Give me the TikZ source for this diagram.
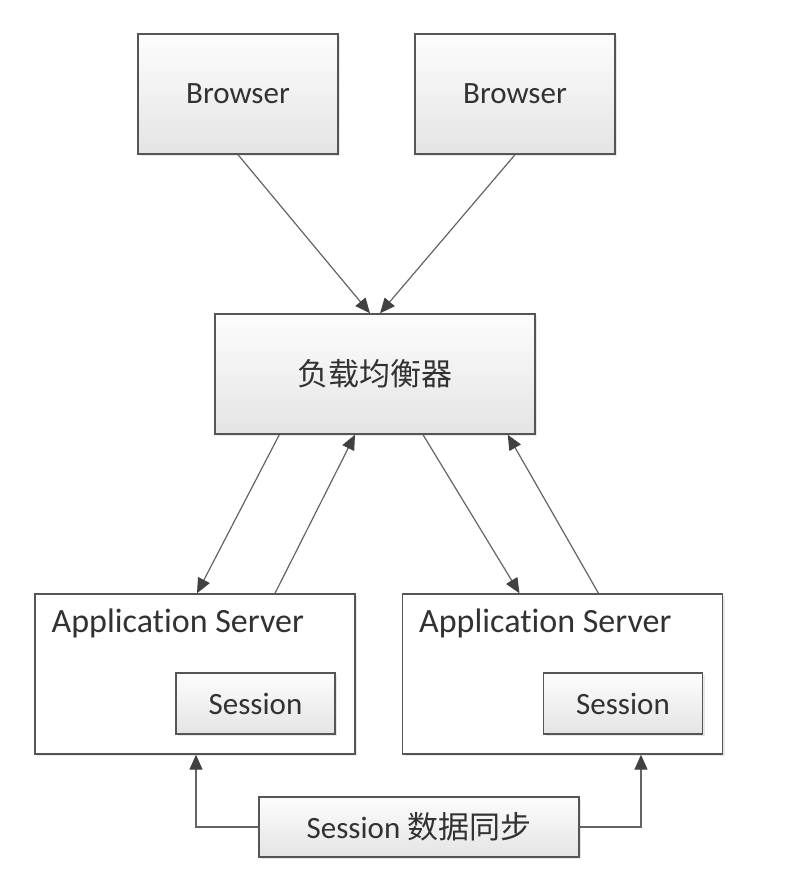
\documentclass[tikz,border=0pt]{standalone}
\usepackage{fontspec}
\setmainfont{Carlito}[Ligatures=NoCommon]
\newfontfamily\cjk{Noto Sans CJK SC}
\usetikzlibrary{
  arrows.meta,
  shadows
}
\definecolor{edgecolor}{RGB}{85, 85, 85}
\definecolor{arrowcolor}{RGB}{100, 100, 100}
\definecolor{tipcolor}{RGB}{65, 65, 65}
\definecolor{labelcolor}{RGB}{50, 50, 50}
\definecolor{shadetop}{RGB}{253, 253, 253}
\definecolor{shadebottom}{RGB}{228, 228, 228}
\tikzset{
blocktext/.style={
  align=center,
  font=\fontsize{15.5}{18}\selectfont,
  text=labelcolor
},
shadedblock/.style={
  draw=edgecolor,
  line width=0.7pt,
  top color=shadetop,
  bottom color=shadebottom,
  drop shadow={opacity=0.18, shadow xshift=1.2pt, shadow yshift=-1.2pt},
  blocktext
},
browserblock/.style={
  shadedblock,
  minimum width=100pt,
  minimum height=60pt
},
balancerblock/.style={
  shadedblock,
  minimum width=160pt,
  minimum height=60pt
},
serverblock/.style={
  draw=edgecolor,
  line width=0.7pt,
  fill=white,
  drop shadow={opacity=0.18, shadow xshift=1.2pt, shadow yshift=-1.2pt},
  minimum width=160pt,
  minimum height=80pt
},
sessionblock/.style={
  shadedblock,
  minimum width=79.5pt,
  minimum height=30.5pt
},
syncblock/.style={
  shadedblock,
  minimum width=160pt,
  minimum height=30pt
},
titlelabel/.style={
  blocktext,
  font=\fontsize{17}{20}\selectfont,
  anchor=west,
  inner sep=0pt
},
arrow/.style={
  -{Triangle[length=7.5pt,width=6.5pt,color=tipcolor]},
  line width=0.6pt,
  draw=arrowcolor
}
}

\begin{document}
\begin{tikzpicture}[x=0.5pt, y=-0.5pt]
  % Canvas
  \fill[white] (0,0) rectangle (810,884);
  \useasboundingbox (0,0) rectangle (810,884);

  % Row positions
  \def\rowA{94}    % browsers
  \def\rowB{374}   % load balancer
  \def\rowC{674}   % application servers
  \def\rowD{827}   % session sync

  % Browsers
  \node[browserblock] (browserL) at (238, \rowA) {Browser};
  \node[browserblock] (browserR) at (515, \rowA) {Browser};

  % Load balancer
  \node[balancerblock] (balancer) at (375, \rowB) {\cjk 负载均衡器};

  % Application servers
  \node[serverblock] (serverL) at (195, \rowC) {};
  \node[serverblock] (serverR) at (562.5, \rowC) {};
  \node[titlelabel] (serverLtitle) at ([xshift=8.5pt,yshift=-15pt]serverL.north west) {Application Server};
  \node[titlelabel] (serverRtitle) at ([xshift=8.5pt,yshift=-15pt]serverR.north west) {Application Server};

  % Sessions
  \node[sessionblock] (sessionL) at (255.5, 703.5) {Session};
  \node[sessionblock] (sessionR) at (623, 703.5) {Session};

  % Session sync
  \node[syncblock] (sync) at (419, \rowD) {Session {\cjk 数据同步}};

  % Browser -> balancer
  \draw[arrow] (browserL.south) -- ([xshift=-2.5pt]balancer.north);
  \draw[arrow] (browserR.south) -- ([xshift=2.5pt]balancer.north);

  % Balancer <-> servers
  \draw[arrow] ([xshift=32.5pt]balancer.south west) -- ([xshift=1pt]serverL.north);
  \draw[arrow] ([xshift=40pt]serverL.north) -- ([xshift=-10pt]balancer.south);
  \draw[arrow] ([xshift=24pt]balancer.south) -- ([xshift=-21.5pt]serverR.north);
  \draw[arrow] ([xshift=18pt]serverR.north) -- ([xshift=-14pt]balancer.south east);

  % Sync -> servers
  \draw[arrow] (sync.west) -| ([xshift=0.5pt]serverL.south);
  \draw[arrow] (sync.east) -| ([xshift=39.25pt]serverR.south);
\end{tikzpicture}
\end{document}
